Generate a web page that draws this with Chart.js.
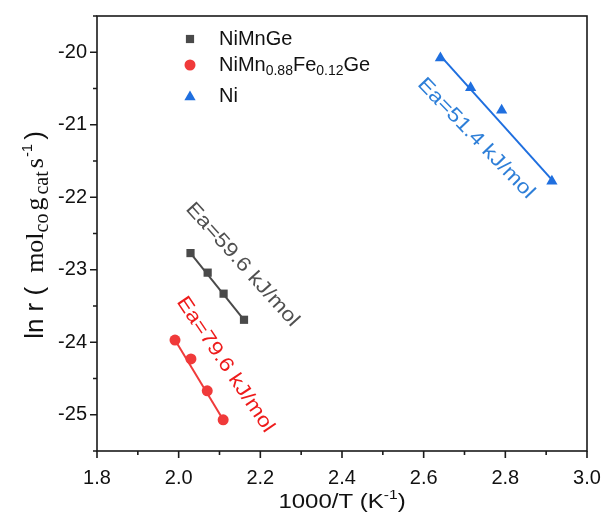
<!DOCTYPE html>
<html>
<head>
<meta charset="utf-8">
<script src="https://cdn.jsdelivr.net/npm/chart.js@4.4.1/dist/chart.umd.min.js"></script>
<style>
html,body{margin:0;padding:0;background:#fff;}
</style>
</head>
<body>
<canvas id="arrhenius" width="606" height="519"></canvas>
<script>
// values: x = 1000/T, y = ln r
const niMnGeX = [2.029, 2.071, 2.110, 2.160];
const niMnGeY = [-22.77, -23.04, -23.33, -23.69];

const niMnFeX = [1.991, 2.030, 2.070, 2.109];
const niMnFeY = [-23.97, -24.23, -24.67, -25.07];

const niX = [2.641, 2.715, 2.791, 2.914];
const niY = [-20.08, -20.49, -20.80, -21.78];

// linear fits (end points)
const fitNiMnGeX = [2.029, 2.160];
const fitNiMnGeY = [-22.77, -23.69];
const fitNiMnFeX = [1.991, 2.109];
const fitNiMnFeY = [-23.97, -25.07];
const fitNiX = [2.643, 2.916];
const fitNiY = [-20.06, -21.77];

const xTicks = [1.8, 2.0, 2.2, 2.4, 2.6, 2.8, 3.0];
const xTickLabels = ["1.8", "2.0", "2.2", "2.4", "2.6", "2.8", "3.0"];
const xMinor = [1.9, 2.1, 2.3, 2.5, 2.7, 2.9];
const yTicks = [-25, -24, -23, -22, -21, -20];
const yTickLabels = ["-25", "-24", "-23", "-22", "-21", "-20"];
const yMinor = [-25.5, -24.5, -23.5, -22.5, -21.5, -20.5, -19.5];

const seriesNames = ["NiMnGe", "NiMn0.88Fe0.12Ge", "Ni"];
const eaLabels = ["Ea=59.6 kJ/mol", "Ea=79.6 kJ/mol", "Ea=51.4 kJ/mol"];

const GREY = "#4a4a4a", RED = "#f03a3a", BLUE = "#1f6fdf";

const pts = (xs, ys) => xs.map((x, i) => ({x: x, y: ys[i]}));

function fitSet(xs, ys, color){
  return {data: pts(xs, ys), showLine: true, borderColor: color, borderWidth: 2,
    pointRadius: 0, pointHoverRadius: 0};
}
function markSet(xs, ys, color, style, r){
  return {data: pts(xs, ys), showLine: false, pointStyle: style, pointRadius: r,
    backgroundColor: color, borderColor: color, borderWidth: 0};
}

/* text along the fit lines, placed in data units */
const eaNotes = [
  {x: 2.156, y: -22.93, angle: 48, color: "#505050"},
  {x: 2.114, y: -24.31, angle: 56, color: "#ee1c1c"},
  {x: 2.728, y: -21.19, angle: 46, color: "#2e7fd8"}
];

const SANS = '"Liberation Sans", Arial, sans-serif';
const SERIF = '"Liberation Serif", "Times New Roman", serif';

function drawRuns(ctx, runs, x0, y0){
  let x = x0;
  runs.forEach(r => {
    ctx.font = r.f;
    ctx.fillText(r.t, x, y0 + (r.dy || 0));
    x += ctx.measureText(r.t).width + (r.gap || 0);
  });
}
function runsWidth(ctx, runs){
  let w = 0;
  runs.forEach(r => { ctx.font = r.f; w += ctx.measureText(r.t).width + (r.gap || 0); });
  return w;
}

const decor = {
  id: "decor",
  afterDraw(chart){
    const {ctx, chartArea: a, scales: {x, y}} = chart;
    ctx.save();

    // frame
    ctx.strokeStyle = "#1a1a1a";
    ctx.lineWidth = 1.6;
    ctx.strokeRect(a.left, a.top, a.right - a.left, a.bottom - a.top);

    // outward ticks on left and bottom
    ctx.beginPath();
    xTicks.forEach(v => { const p = x.getPixelForValue(v); ctx.moveTo(p, a.bottom); ctx.lineTo(p, a.bottom + 7); });
    xMinor.forEach(v => { const p = x.getPixelForValue(v); ctx.moveTo(p, a.bottom); ctx.lineTo(p, a.bottom + 4); });
    yTicks.forEach(v => { const p = y.getPixelForValue(v); ctx.moveTo(a.left, p); ctx.lineTo(a.left - 7, p); });
    yMinor.forEach(v => { const p = y.getPixelForValue(v); ctx.moveTo(a.left, p); ctx.lineTo(a.left - 4, p); });
    ctx.stroke();

    // Ea notes
    eaNotes.forEach((n, i) => {
      ctx.save();
      ctx.translate(x.getPixelForValue(n.x), y.getPixelForValue(n.y));
      ctx.rotate(n.angle * Math.PI / 180);
      ctx.scale(1.15, 1);
      ctx.fillStyle = n.color;
      ctx.font = "20px " + SANS;
      ctx.textAlign = "center";
      ctx.textBaseline = "middle";
      ctx.fillText(eaLabels[i], 0, 0);
      ctx.restore();
    });

    // legend
    const H = Chart.helpers;
    const lx = a.left + 93, tx = a.left + 122;
    const rows = [a.top + 23, a.top + 49, a.top + 80];
    const marks = [
      {pointStyle: "rect", radius: 5.8, color: GREY},
      {pointStyle: "circle", radius: 5.5, color: RED},
      {pointStyle: "triangle", radius: 6.5, color: BLUE}
    ];
    marks.forEach((m, i) => {
      ctx.fillStyle = m.color;
      ctx.strokeStyle = m.color;
      H.drawPoint(ctx, {pointStyle: m.pointStyle, radius: m.radius, rotation: 0, borderWidth: 0}, lx, rows[i] + (i === 2 ? 1 : 0));
    });
    ctx.fillStyle = "#111";
    ctx.textAlign = "left";
    ctx.textBaseline = "middle";
    const big = "20px " + SANS, small = "14px " + SANS;
    drawRuns(ctx, [{t: seriesNames[0], f: big}], tx, rows[0]);
    drawRuns(ctx, [
      {t: "NiMn", f: big}, {t: "0.88", f: small, dy: 6},
      {t: "Fe", f: big}, {t: "0.12", f: small, dy: 6}, {t: "Ge", f: big}
    ], tx, rows[1]);
    drawRuns(ctx, [{t: seriesNames[2], f: big}], tx, rows[2]);

    // x title
    ctx.textBaseline = "alphabetic";
    const xRuns = [{t: "1000/T (K", f: "20px " + SANS}, {t: "-1", f: "13px " + SANS, dy: -9}, {t: ")", f: "20px " + SANS}];
    ctx.save();
    ctx.translate((a.left + a.right) / 2, 508);
    ctx.scale(1.2, 1);
    drawRuns(ctx, xRuns, -runsWidth(ctx, xRuns) / 2, 0);
    ctx.restore();

    // y title
    const yRuns = [
      {t: "ln r (", f: "26px " + SANS, gap: 14},
      {t: "mol", f: "26px " + SERIF},
      {t: "co", f: "20px " + SERIF, dy: 5, gap: 3},
      {t: "g", f: "26px " + SERIF, gap: 3},
      {t: "cat", f: "20px " + SERIF, dy: 5, gap: 3},
      {t: "s", f: "26px " + SERIF, gap: 1},
      {t: "-1", f: "15px " + SANS, dy: -11, gap: 4},
      {t: ")", f: "26px " + SANS}
    ];
    ctx.save();
    ctx.translate(43, 235);
    ctx.rotate(-Math.PI / 2);
    drawRuns(ctx, yRuns, -runsWidth(ctx, yRuns) / 2, 0);
    ctx.restore();

    ctx.restore();
  }
};

new Chart(document.getElementById("arrhenius"), {
  type: "scatter",
  data: {
    datasets: [
      fitSet(fitNiMnGeX, fitNiMnGeY, GREY),
      fitSet(fitNiMnFeX, fitNiMnFeY, RED),
      fitSet(fitNiX, fitNiY, BLUE),
      markSet(niMnGeX, niMnGeY, GREY, "rect", 5.8),
      markSet(niMnFeX, niMnFeY, RED, "circle", 5.5),
      markSet(niX, niY, BLUE, "triangle", 6.5)
    ]
  },
  options: {
    responsive: false,
    animation: false,
    layout: {padding: {top: 16, right: 19, left: 0, bottom: 0}},
    plugins: {legend: {display: false}, tooltip: {enabled: false}},
    scales: {
      x: {
        type: "linear", min: 1.8, max: 3.0,
        afterBuildTicks: s => { s.ticks = xTicks.map(v => ({value: v})); },
        afterFit: s => { s.height = 68; s.paddingLeft = 0; s.paddingRight = 0; },
        grid: {display: false, drawTicks: false},
        border: {display: false},
        ticks: {
          padding: 15, color: "#111", maxRotation: 0,
          font: {family: SANS, size: 20},
          callback: (v, i) => xTickLabels[i]
        }
      },
      y: {
        type: "linear", min: -25.5, max: -19.5,
        afterBuildTicks: s => { s.ticks = yTicks.map(v => ({value: v})); },
        afterFit: s => { s.width = 97; s.paddingTop = 0; s.paddingBottom = 0; },
        grid: {display: false, drawTicks: false},
        border: {display: false},
        ticks: {
          padding: 10, color: "#111",
          font: {family: SANS, size: 20},
          callback: (v, i) => yTickLabels[i]
        }
      }
    }
  },
  plugins: [decor]
});
</script>
</body>
</html>
